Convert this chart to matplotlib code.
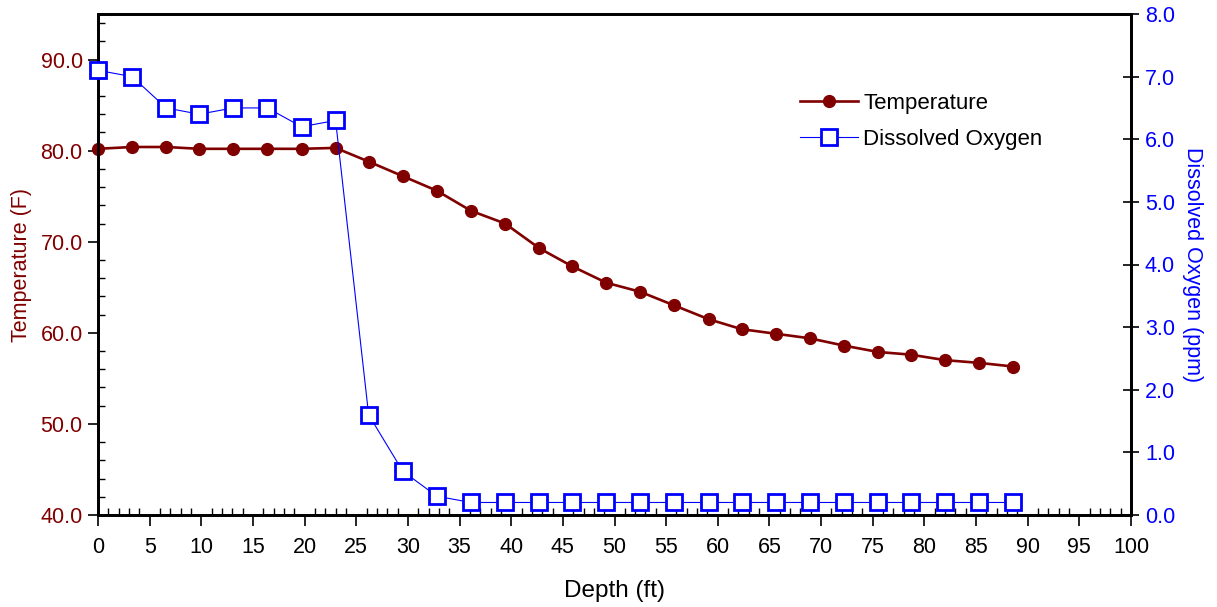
import matplotlib
matplotlib.use("Agg")
import matplotlib.pyplot as plt
from matplotlib.ticker import MultipleLocator, FormatStrFormatter

plt.rcParams['font.family'] = ['Liberation Sans', 'DejaVu Sans']

depth_ft = [0.0, 3.3, 6.6, 9.8, 13.1, 16.4, 19.7, 23.0, 26.2, 29.5, 32.8, 36.1,
            39.4, 42.7, 45.9, 49.2, 52.5, 55.8, 59.1, 62.3, 65.6, 68.9, 72.2,
            75.5, 78.7, 82.0, 85.3, 88.6]
temperature_f = [80.2, 80.4, 80.4, 80.2, 80.2, 80.2, 80.2, 80.3, 78.8, 77.2, 75.6,
                 73.4, 72.0, 69.3, 67.3, 65.5, 64.5, 63.0, 61.5, 60.4, 59.9, 59.4,
                 58.6, 57.9, 57.6, 57.0, 56.7, 56.3]
oxygen_ppm = [7.1, 7.0, 6.5, 6.4, 6.5, 6.5, 6.2, 6.3, 1.6, 0.7, 0.3, 0.2, 0.2, 0.2,
              0.2, 0.2, 0.2, 0.2, 0.2, 0.2, 0.2, 0.2, 0.2, 0.2, 0.2, 0.2, 0.2, 0.2]

TEMP_C = '#800000'
DO_C = '#0000FF'
FS = 15.5

fig = plt.figure(figsize=(12.17, 6.07), dpi=100)
ax = fig.add_axes([98/1217, 1 - 515/607, (1131-98)/1217, (515-14)/607])
ax2 = ax.twinx()

l1, = ax.plot(depth_ft, temperature_f, color=TEMP_C, lw=1.9, marker='o', ms=8.5,
              label='Temperature', clip_on=False, zorder=3)
l2, = ax2.plot(depth_ft, oxygen_ppm, color=DO_C, lw=0.8, marker='s', ms=12,
               mfc='white', mec=DO_C, mew=2.0, label='Dissolved Oxygen',
               clip_on=False, zorder=3)

ax.set_xlim(0, 100)
ax.set_ylim(40, 95)
ax2.set_ylim(0, 8)

ax.xaxis.set_major_locator(MultipleLocator(5))
ax.xaxis.set_minor_locator(MultipleLocator(1))
ax.yaxis.set_major_locator(MultipleLocator(10))
ax.yaxis.set_minor_locator(MultipleLocator(2))
ax.yaxis.set_major_formatter(FormatStrFormatter('%.1f'))
ax2.yaxis.set_major_locator(MultipleLocator(1))
ax2.yaxis.set_major_formatter(FormatStrFormatter('%.1f'))

ax.tick_params(axis='x', which='major', direction='out', length=8, width=1.2,
               labelsize=FS, colors='black', pad=8)
ax.tick_params(axis='x', which='minor', direction='in', length=5, width=1.0)
ax.tick_params(axis='y', which='major', direction='out', length=7, width=1.2,
               labelsize=FS, labelcolor=TEMP_C, pad=4)
ax.tick_params(axis='y', which='minor', direction='in', length=5, width=1.0)
ax2.tick_params(axis='y', which='major', direction='inout', length=12, width=1.2,
                labelsize=FS, labelcolor=DO_C, pad=4)

for a in (ax, ax2):
    for s in a.spines.values():
        s.set_linewidth(2.0)

ax.set_xlabel('Depth (ft)', fontsize=17.5, labelpad=16)
ax.set_ylabel('Temperature (F)', fontsize=FS, color=TEMP_C, labelpad=6)
ax2.set_ylabel('Dissolved Oxygen (ppm)', fontsize=FS, color=DO_C, rotation=270,
               labelpad=20)

leg = ax.legend([l1, l2], ['Temperature', 'Dissolved Oxygen'], loc='upper left',
                bbox_to_anchor=((800 - 98) / 1033, (515 - 93) / 501),
                frameon=False, fontsize=16, borderpad=0, borderaxespad=0,
                handlelength=2.6, handletextpad=0.25, labelspacing=0.68)

fig.savefig('out.png', dpi=100)
